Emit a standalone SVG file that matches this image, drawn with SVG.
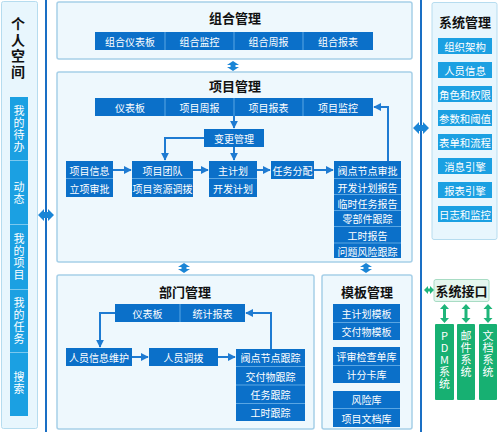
<svg xmlns="http://www.w3.org/2000/svg" width="499" height="432" viewBox="0 0 499 432">
<defs>
<style>
text{font-family:"Noto Sans CJK SC","Noto Sans",sans-serif;}
.panel{fill:#eef8fd;stroke:#a6cfe8;stroke-width:1.5;}
.btn{fill:#0b70c9;}
.sbtn{fill:#1ba0e2;}
.gbtn{fill:#17b072;}
.bt{fill:#fff;font-size:10px;text-anchor:middle;dominant-baseline:central;}
.st{fill:#fff;font-size:10.4px;text-anchor:middle;dominant-baseline:central;}
.title{fill:#111;font-size:13px;font-weight:bold;text-anchor:middle;dominant-baseline:central;}
.div{stroke:#5aa6e3;stroke-width:1;}
.conn{fill:none;stroke:#1e7bd2;stroke-width:2;}
.dbl{fill:#1a85d6;}
.gdbl{fill:#1fb57a;}
.vt{fill:#fff;font-size:11px;text-anchor:middle;writing-mode:vertical-rl;text-orientation:upright;letter-spacing:1px;}
.vtitle{fill:#111;font-size:14px;font-weight:bold;text-anchor:middle;writing-mode:vertical-rl;text-orientation:upright;letter-spacing:2px;}
</style>
<marker id="ah" viewBox="0 0 10 10" refX="9" refY="5" markerWidth="4" markerHeight="4" orient="auto" markerUnits="strokeWidth">
<path d="M0,0 L10,5 L0,10 z" fill="#1e7bd2"/>
</marker>
</defs>
<rect width="499" height="432" fill="#ffffff"/>

<!-- vertical lines -->
<line x1="46" y1="0" x2="46" y2="432" stroke="#1a6fc4" stroke-width="2"/>
<line x1="421" y1="0" x2="421" y2="432" stroke="#1a6fc4" stroke-width="2"/>

<!-- 个人空间 -->
<g id="personal">
<rect x="1.5" y="1.5" width="36" height="427" rx="2" fill="#e8f6fd" stroke="#b6dcef" stroke-width="1"/>
<text x="18" y="49" class="vtitle">个人空间</text>
<rect x="10" y="97" width="18" height="319" class="sbtn"/>
<line x1="10" y1="160.5" x2="28" y2="160.5" stroke="#7cc8ee"/>
<line x1="10" y1="224.5" x2="28" y2="224.5" stroke="#7cc8ee"/>
<line x1="10" y1="289.5" x2="28" y2="289.5" stroke="#7cc8ee"/>
<line x1="10" y1="352.5" x2="28" y2="352.5" stroke="#7cc8ee"/>
<text x="19" y="129" class="vt">我的待办</text>
<text x="19" y="193" class="vt">动态</text>
<text x="19" y="257" class="vt">我的项目</text>
<text x="19" y="321" class="vt">我的任务</text>
<text x="19" y="383" class="vt">搜索</text>
</g>

<!-- 组合管理 -->
<g id="portfolio">
<rect x="57" y="2" width="355" height="57" rx="2" class="panel"/>
<text x="235" y="17" class="title">组合管理</text>
<rect x="95" y="32" width="278" height="18" class="btn"/>
<line x1="165" y1="32" x2="165" y2="50" class="div"/>
<line x1="234" y1="32" x2="234" y2="50" class="div"/>
<line x1="303" y1="32" x2="303" y2="50" class="div"/>
<text x="130" y="41" class="bt">组合仪表板</text>
<text x="199.5" y="41" class="bt">组合监控</text>
<text x="268.5" y="41" class="bt">组合周报</text>
<text x="338" y="41" class="bt">组合报表</text>
</g>

<!-- 项目管理 -->
<g id="project">
<rect x="57" y="72" width="355" height="190" rx="2" class="panel"/>
<text x="235" y="85" class="title">项目管理</text>
<rect x="95" y="98" width="278" height="18" class="btn"/>
<line x1="165" y1="98" x2="165" y2="116" class="div"/>
<line x1="234" y1="98" x2="234" y2="116" class="div"/>
<line x1="303" y1="98" x2="303" y2="116" class="div"/>
<text x="130" y="107" class="bt">仪表板</text>
<text x="199.5" y="107" class="bt">项目周报</text>
<text x="268.5" y="107" class="bt">项目报表</text>
<text x="338" y="107" class="bt">项目监控</text>
</g>
<g id="change">
<rect x="204" y="129" width="60" height="18" class="btn"/>
<text x="234" y="138" class="bt">变更管理</text>
</g>
<g id="info">
<rect x="66" y="161" width="47" height="36" class="btn"/>
<line x1="66" y1="178.5" x2="113" y2="178.5" class="div"/>
<text x="89.5" y="170" class="bt">项目信息</text>
<text x="89.5" y="188" class="bt">立项审批</text>
</g>
<g id="team">
<rect x="132" y="161" width="61" height="36" class="btn"/>
<line x1="132" y1="178.5" x2="193" y2="178.5" class="div"/>
<text x="162.5" y="170" class="bt">项目团队</text>
<text x="162.5" y="188" class="bt">项目资源调拨</text>
</g>
<g id="plan">
<rect x="209" y="161" width="48" height="36" class="btn"/>
<line x1="209" y1="178.5" x2="257" y2="178.5" class="div"/>
<text x="233" y="170" class="bt">主计划</text>
<text x="233" y="188" class="bt">开发计划</text>
</g>
<g id="assign">
<rect x="271" y="161" width="43" height="18" class="btn"/>
<text x="292.5" y="170" class="bt">任务分配</text>
</g>
<g id="review">
<rect x="334" y="161" width="67" height="97" class="btn"/>
<line x1="334" y1="178.5" x2="401" y2="178.5" class="div"/>
<line x1="334" y1="194.5" x2="401" y2="194.5" class="div"/>
<line x1="334" y1="210.5" x2="401" y2="210.5" class="div"/>
<line x1="334" y1="226.5" x2="401" y2="226.5" class="div"/>
<line x1="334" y1="243" x2="401" y2="243" class="div"/>
<text x="367.5" y="170" class="bt">阀点节点审批</text>
<text x="367.5" y="187" class="bt">开发计划报告</text>
<text x="367.5" y="203" class="bt">临时任务报告</text>
<text x="367.5" y="218.5" class="bt">零部件跟踪</text>
<text x="367.5" y="235" class="bt">工时报告</text>
<text x="367.5" y="251" class="bt">问题风险跟踪</text>
</g>

<!-- 部门管理 -->
<g id="dept">
<rect x="57" y="275" width="257" height="154" rx="2" class="panel"/>
<text x="185" y="291" class="title">部门管理</text>
<rect x="115" y="304" width="130" height="18" class="btn"/>
<line x1="180" y1="304" x2="180" y2="322" class="div"/>
<text x="147.5" y="313" class="bt">仪表板</text>
<text x="212.5" y="313" class="bt">统计报表</text>
</g>
<g id="staff">
<rect x="66" y="348" width="66" height="18" class="btn"/>
<text x="99" y="357" class="bt">人员信息维护</text>
</g>
<g id="transfer">
<rect x="149" y="348" width="69" height="18" class="btn"/>
<text x="183.5" y="357" class="bt">人员调拨</text>
</g>
<g id="track">
<rect x="236" y="349" width="69" height="72" class="btn"/>
<line x1="236" y1="366.5" x2="305" y2="366.5" class="div"/>
<line x1="236" y1="385" x2="305" y2="385" class="div"/>
<line x1="236" y1="403.5" x2="305" y2="403.5" class="div"/>
<text x="270.5" y="357.5" class="bt">阀点节点跟踪</text>
<text x="270.5" y="376" class="bt">交付物跟踪</text>
<text x="270.5" y="394.5" class="bt">任务跟踪</text>
<text x="270.5" y="412.5" class="bt">工时跟踪</text>
</g>

<!-- 模板管理 -->
<g id="template">
<rect x="322" y="275" width="90" height="154" rx="2" class="panel"/>
<text x="367" y="291" class="title">模板管理</text>
<rect x="333" y="304" width="67" height="36" class="btn"/>
<line x1="333" y1="322.5" x2="400" y2="322.5" class="div"/>
<text x="366.5" y="313" class="bt">主计划模板</text>
<text x="366.5" y="331.5" class="bt">交付物模板</text>
<rect x="333" y="347" width="67" height="36" class="btn"/>
<line x1="333" y1="365.5" x2="400" y2="365.5" class="div"/>
<text x="366.5" y="356" class="bt">评审检查单库</text>
<text x="366.5" y="374.5" class="bt">计分卡库</text>
<rect x="333" y="391" width="67" height="36" class="btn"/>
<line x1="333" y1="408.5" x2="400" y2="408.5" class="div"/>
<text x="366.5" y="399.5" class="bt">风险库</text>
<text x="366.5" y="418" class="bt">项目文档库</text>
</g>

<!-- 系统管理 -->
<g id="sysmgmt">
<rect x="432" y="2.5" width="65" height="237" rx="2" fill="#e8f6fd" stroke="#b6dcef" stroke-width="1"/>
<text x="465" y="21" class="title">系统管理</text>
<rect x="438" y="38" width="54" height="16" class="sbtn"/><text x="465" y="46" class="st">组织架构</text>
<rect x="438" y="62" width="54" height="16" class="sbtn"/><text x="465" y="70" class="st">人员信息</text>
<rect x="438" y="86" width="54" height="16" class="sbtn"/><text x="465" y="94" class="st">角色和权限</text>
<rect x="438" y="110" width="54" height="16" class="sbtn"/><text x="465" y="118" class="st">参数和阈值</text>
<rect x="438" y="134" width="54" height="16" class="sbtn"/><text x="465" y="142" class="st">表单和流程</text>
<rect x="438" y="158" width="54" height="16" class="sbtn"/><text x="465" y="166" class="st">消息引擎</text>
<rect x="438" y="182" width="54" height="16" class="sbtn"/><text x="465" y="190" class="st">报表引擎</text>
<rect x="438" y="206" width="54" height="16" class="sbtn"/><text x="465" y="214" class="st">日志和监控</text>
</g>

<!-- 系统接口 -->
<g id="sysif">
<rect x="434" y="279.5" width="55" height="22" rx="2" fill="#e4f6ee" stroke="#a8dcc4" stroke-width="1"/>
<text x="461.5" y="290.5" class="title">系统接口</text>
</g>
<g id="pdm">
<rect x="435" y="324" width="19" height="76" rx="1" class="gbtn"/>
<text x="444.5" y="360" class="vt">PDM系统</text>
</g>
<g id="mail">
<rect x="457" y="324" width="18" height="76" rx="1" class="gbtn"/>
<text x="466" y="354" class="vt">邮件系统</text>
</g>
<g id="doc">
<rect x="479" y="324" width="18" height="76" rx="1" class="gbtn"/>
<text x="488" y="354" class="vt">文档系统</text>
</g>

<!-- connectors -->
<g id="connectors">
<path d="M234,116 V128" class="conn" marker-end="url(#ah)"/>
<path d="M204,138 H165 V160" class="conn" marker-end="url(#ah)"/>
<path d="M234,147 V160" class="conn" marker-end="url(#ah)"/>
<path d="M113,170 H131" class="conn" marker-end="url(#ah)"/>
<path d="M193,170 H208" class="conn" marker-end="url(#ah)"/>
<path d="M257,170 H270" class="conn" marker-end="url(#ah)"/>
<path d="M314,170 H333" class="conn" marker-end="url(#ah)"/>
<path d="M388,161 V107 H374" class="conn" marker-end="url(#ah)"/>
<path d="M115,313 H100 V347" class="conn" marker-end="url(#ah)"/>
<path d="M132,357 H148" class="conn" marker-end="url(#ah)"/>
<path d="M218,357 H235" class="conn" marker-end="url(#ah)"/>
<path d="M271,349 V313 H246" class="conn" marker-end="url(#ah)"/>

<!-- double arrows -->
<path d="M38,215 L44,209 V212 H48 V209 L54,215 L48,221 V218 H44 V221 z" class="dbl"/>
<path d="M413,128 L419,122 V125 H423 V122 L429,128 L423,134 V131 H419 V134 z" class="dbl"/>
<path d="M233,61 L239,65 H235.5 V67 H239 L233,71 L227,67 H230.5 V65 H227 z" class="dbl"/>
<path d="M184,263 L190,267 H186.5 V269 H190 L184,273 L178,269 H181.5 V267 H178 z" class="dbl"/>
<path d="M366,263 L372,267 H368.5 V269 H372 L366,273 L360,269 H363.5 V267 H360 z" class="dbl"/>

<path d="M424,290 L428,286 V288.5 H430 V286 L434,290 L430,294 V291.5 H428 V294 z" class="gdbl"/>
<path d="M444.5,304 L449,309 H446 V318 H449 L444.5,323 L440,318 H443 V309 H440 z" class="gdbl"/>
<path d="M466,304 L470.5,309 H467.5 V318 H470.5 L466,323 L461.5,318 H464.5 V309 H461.5 z" class="gdbl"/>
<path d="M488,304 L492.5,309 H489.5 V318 H492.5 L488,323 L483.5,318 H486.5 V309 H483.5 z" class="gdbl"/>
</g>
</svg>
